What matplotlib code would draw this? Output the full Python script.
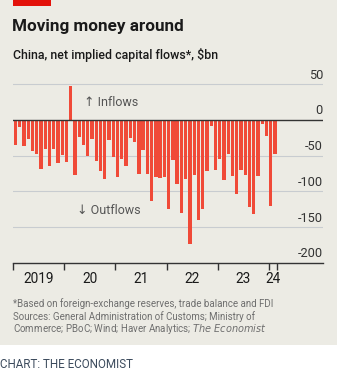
import numpy as np
import matplotlib.pyplot as plt
from matplotlib.patches import Rectangle

# Monthly net implied capital flows, $bn, Jan 2019 - Feb 2024
flows = [
    -35, -10, -36, -26, -43, -47, -68, -41, -65, -40, -60, -49,   # 2019
    -59, 47, -77, -24, -35, -50, -27, -58, -71, -83, -28, -52,    # 2020
    -80, -54, -65, -25, -31, -76, -42, -75, -114, -80, -81, -80,  # 2021
    -124, -56, -90, -130, -82, -174, -77, -140, -125, -71, -9, -70,  # 2022
    -55, -84, -47, -78, -104, -70, -77, -122, -131, -79, -6, -22,  # 2023
    -120, -48,                                                   # 2024
]
year_labels = ['2019', '20', '21', '22', '23', '24']
year_label_pos = [6, 18, 30, 42, 54, 61]
year_ticks = [0, 12, 24, 36, 48, 60, 62]
y_ticks = [50, 0, -50, -100, -150, -200]

W, H = 337, 374
BG = '#ecebe4'
RED = '#f04a38'

plt.rcParams['font.family'] = ['Roboto', 'DejaVu Sans']

fig = plt.figure(figsize=(W / 100, H / 100), dpi=100, facecolor='white')


def fx(px):
    return px / W


def fy(py):
    return 1 - py / H


# beige panel and red tag
fig.patches.append(Rectangle((0, fy(345)), 1, 345 / H, transform=fig.transFigure,
                             facecolor=BG, edgecolor='none', zorder=-10))
fig.patches.append(Rectangle((fx(13), fy(6)), fx(38), 6 / H, transform=fig.transFigure,
                             facecolor='#e3120b', edgecolor='none', zorder=-5))

fig.text(fx(12.5), fy(27), 'Moving money around', fontsize=12.3, fontweight='bold',
         color='#1a1a1a', va='center', ha='left')
fig.text(fx(13), fy(55), 'China, net implied capital flows*, $bn', fontsize=8.9,
         fontweight='medium', color='#1a1a1a', va='center', ha='left')

y_bot, y_top = -200, 60
px0, px50 = 262.8, 84.3
ppu = (px0 - px50) / 250
top_px = px50 - (y_top - 50) * ppu
ax = fig.add_axes([fx(13.3), fy(px0), fx(323 - 13.3), (px0 - top_px) / H])
ax.set_facecolor('none')

x = np.arange(len(flows)) + 0.5
ax.bar(x, flows, width=0.78, color=RED, zorder=3)

ax.set_xlim(0, (323 - 13.3) / 4.256)
ax.set_ylim(y_bot, y_top)

for v in y_ticks:
    if v == 0:
        ax.axhline(v, color='#333333', lw=1.0, zorder=4)
    elif v != -200:
        ax.axhline(v, color='#c8ccd0', lw=0.8, zorder=1)
    ax.text(1, v + 9 / ppu, f'{v}', transform=ax.get_yaxis_transform(),
            ha='right', va='center', fontsize=9.2, color='#333333')

for s in ['top', 'left', 'right']:
    ax.spines[s].set_visible(False)
ax.spines['bottom'].set_color('#333333')
ax.spines['bottom'].set_linewidth(1.0)
ax.set_yticks([])
ax.set_xticks(year_ticks)
ax.set_xticklabels([])
ax.tick_params(axis='x', direction='out', length=5, width=1, color='#333333')

for lbl, pos in zip(year_labels, year_label_pos):
    ax.text(pos, y_bot - 16.5 / ppu, lbl, ha='center', va='center',
            fontsize=9.8, color='#1a1a1a')

ax.text(16.5, 25, '↑ Inflows', ha='left', va='center', fontsize=9.0,
        color='#555555')
ax.text(15, -127, '↓ Outflows', ha='left', va='center', fontsize=9.0,
        color='#555555')

foot = '#6e6e6e'
fig.text(fx(13), fy(304), '*Based on foreign-exchange reserves, trade balance and FDI',
         fontsize=7.0, color=foot, va='center')
fig.text(fx(13), fy(316.5), 'Sources: General Administration of Customs; Ministry of',
         fontsize=7.0, color=foot, va='center')
fig.text(fx(13), fy(329), 'Commerce; PBoC; Wind; Haver Analytics; $\\it{The\\ Economist}$',
         fontsize=7.0, color=foot, va='center')

fig.text(fx(0), fy(364), 'CHART: THE ECONOMIST', fontsize=8.4, color='#3b4a5c',
         va='center')

fig.savefig('out.png', dpi=100, facecolor='white')
